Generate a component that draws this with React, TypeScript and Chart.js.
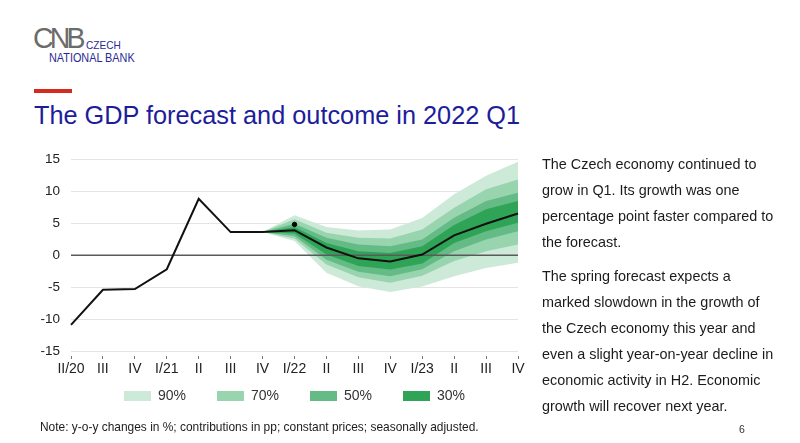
import React, { useEffect, useRef } from "react";
import { Chart, registerables } from "chart.js";

Chart.register(...registerables);

const categories = ["II/20", "III", "IV", "I/21", "II", "III", "IV", "I/22", "II", "III", "IV", "I/23", "II", "III", "IV"];
const gdpForecast = [-10.9, -5.4, -5.3, -2.2, 8.8, 3.6, 3.6, 3.9, 1.2, -0.5, -1.0, 0.1, 3.1, 4.9, 6.5];
const gdpOutcome = [null, null, null, null, null, null, null, 4.8, null, null, null, null, null, null, null];

const upper90 = [null, null, null, null, null, null, 3.6, 6.25, 4.4, 3.85, 4.0, 5.8, 9.5, 12.4, 14.6];
const upper70 = [null, null, null, null, null, null, 3.6, 5.6, 3.5, 2.7, 2.6, 4.0, 7.4, 10.3, 11.8];
const upper50 = [null, null, null, null, null, null, 3.6, 4.9, 2.7, 1.65, 1.4, 2.45, 5.85, 8.45, 9.75];
const upper30 = [null, null, null, null, null, null, 3.6, 4.4, 1.9, 0.6, 0.35, 1.4, 4.7, 7.15, 8.45];
const lower30 = [null, null, null, null, null, null, 3.6, 3.4, 0.1, -1.7, -2.25, -1.3, 1.9, 3.75, 5.05];
const lower50 = [null, null, null, null, null, null, 3.6, 3.0, -0.7, -2.6, -3.3, -2.2, 0.6, 2.45, 3.75];
const lower70 = [null, null, null, null, null, null, 3.6, 2.6, -1.45, -3.45, -4.3, -3.2, -0.9, 0.6, 1.65];
const lower90 = [null, null, null, null, null, null, 3.6, 2.2, -2.75, -4.85, -5.75, -4.9, -3.3, -2.0, -1.2];

const bandLabels = ["30%", "50%", "70%", "90%"];
const bandColors = ["#2fa457", "#64bb86", "#98d5ae", "#cde9d8"];

const yMin = -15;
const yMax = 15;
const yStep = 5;

const FONT = "'Liberation Sans', Arial, Helvetica, sans-serif";

// draws the zero line above the fan bands, below the GDP line
const zeroLinePlugin = {
  id: "zeroLine",
  beforeDatasetDraw(chart: any, args: any) {
    if (args.index !== 1) return;
    const y = chart.scales.y.getPixelForValue(0);
    const { left, right } = chart.chartArea;
    const ctx = chart.ctx;
    ctx.save();
    ctx.strokeStyle = "#5a5a5a";
    ctx.lineWidth = 1.5;
    ctx.beginPath();
    ctx.moveTo(left, y);
    ctx.lineTo(right, y);
    ctx.stroke();
    ctx.restore();
  },
};

// moves the legend row up closer to the axis labels and centres it under the plot
const legendShiftPlugin = {
  id: "legendShift",
  afterLayout(chart: any) {
    const lg = chart.legend;
    if (!lg) return;
    lg.top -= 21;
    lg.bottom -= 21;
    lg.left += 25.5;
    lg.right += 25.5;
  },
};

function FanChart() {
  const ref = useRef<HTMLCanvasElement | null>(null);
  useEffect(() => {
    if (!ref.current) return;
    const band = (label: string, data: (number | null)[], color: string, fill: any) => ({
      label,
      data,
      borderWidth: 0,
      borderColor: "rgba(0,0,0,0)",
      backgroundColor: color,
      pointRadius: 0,
      fill,
      tension: 0,
    });
    const chart = new Chart(ref.current, {
      type: "line",
      plugins: [zeroLinePlugin, legendShiftPlugin],
      data: {
        labels: categories,
        datasets: [
          {
            label: "Outcome",
            data: gdpOutcome,
            showLine: false,
            pointRadius: 2.2,
            pointBackgroundColor: "#000",
            pointBorderColor: "#000",
            borderColor: "#000",
            backgroundColor: "#000",
            fill: false,
          },
          {
            label: "GDP",
            data: gdpForecast,
            borderColor: "#111",
            borderWidth: 2,
            pointRadius: 0,
            fill: false,
            tension: 0,
          },
          band(bandLabels[0], upper30, bandColors[0], "+1"),
          band("l30", lower30, bandColors[0], false),
          band(bandLabels[1], upper50, bandColors[1], "+1"),
          band("l50", lower50, bandColors[1], false),
          band(bandLabels[2], upper70, bandColors[2], "+1"),
          band("l70", lower70, bandColors[2], false),
          band(bandLabels[3], upper90, bandColors[3], "+1"),
          band("l90", lower90, bandColors[3], false),
        ] as any,
      },
      options: {
        animation: false,
        responsive: false,
        devicePixelRatio: 1,
        layout: { padding: { top: 13, right: 50, left: 0, bottom: 0 } },
        plugins: {
          tooltip: { enabled: false },
          legend: {
            position: "bottom",
            align: "center",
            labels: {
              boxWidth: 27,
              boxHeight: 10,
              padding: 31,
              color: "#333",
              font: { size: 14, family: FONT },
              filter: (item: any) => bandLabels.includes(item.text),
              sort: (a: any, b: any) => b.datasetIndex - a.datasetIndex,
            },
          },
        },
        scales: {
          x: {
            grid: {
              display: true,
              drawOnChartArea: false,
              drawTicks: true,
              tickLength: 9,
              tickColor: "#777",
              tickWidth: 1,
              tickBorderDash: [0, 5, 3, 30],
            } as any,
            border: { display: false },
            ticks: {
              color: "#222",
              font: { size: 14, family: FONT },
              padding: 1,
              maxRotation: 0,
              autoSkip: false,
            },
          },
          y: {
            min: yMin,
            max: yMax,
            ticks: {
              stepSize: yStep,
              color: "#222",
              font: { size: 13.5, family: FONT },
              padding: 11,
            },
            grid: {
              drawTicks: false,
              color: "#e4e4e4",
              lineWidth: 1,
            },
            border: { display: false },
            afterFit: (s: any) => {
              s.width = 51;
            },
          },
        },
      } as any,
    });
    return () => chart.destroy();
  }, []);
  return (
    <canvas
      ref={ref}
      width={548}
      height={294}
      style={{ position: "absolute", left: 20, top: 140, width: 548, height: 294 }}
    />
  );
}

export default function App() {
  const text: React.CSSProperties = {
    position: "absolute",
    left: 542,
    fontSize: 14.4,
    lineHeight: "25.9px",
    color: "#1b1b1b",
    whiteSpace: "nowrap",
    fontFamily: FONT,
  };
  return (
    <div
      style={{
        position: "fixed",
        left: 0,
        top: 0,
        width: 800,
        height: 443,
        overflow: "hidden",
        background: "#fff",
        fontFamily: FONT,
      }}
    >
      {/* logo */}
      <div
        style={{
          position: "absolute",
          left: 33,
          top: 21,
          fontSize: 30,
          lineHeight: "34px",
          letterSpacing: -4,
          color: "#6b6b6b",
          transform: "scaleX(0.95)",
          transformOrigin: "left top",
        }}
      >
        CNB
      </div>
      <div
        style={{
          position: "absolute",
          left: 86,
          top: 38,
          fontSize: 11.6,
          lineHeight: "14px",
          color: "#2a2a96",
          transform: "scaleX(0.87)",
          transformOrigin: "left top",
        }}
      >
        CZECH
      </div>
      <div
        style={{
          position: "absolute",
          left: 49,
          top: 50,
          fontSize: 13,
          lineHeight: "15px",
          color: "#2a2a96",
          whiteSpace: "nowrap",
          transform: "scaleX(0.835)",
          transformOrigin: "left top",
        }}
      >
        NATIONAL BANK
      </div>
      {/* red bar */}
      <div style={{ position: "absolute", left: 34, top: 89, width: 38, height: 3.5, background: "#d52b1e" }} />
      {/* title */}
      <div
        style={{
          position: "absolute",
          left: 34,
          top: 100,
          fontSize: 25.3,
          lineHeight: "30px",
          color: "#1d1d9b",
          whiteSpace: "nowrap",
        }}
      >
        The GDP forecast and outcome in 2022 Q1
      </div>

      <FanChart />

      {/* right text */}
      <div style={{ ...text, top: 152 }}>
        The Czech economy continued to
        <br />
        grow in Q1. Its growth was one
        <br />
        percentage point faster compared to
        <br />
        the forecast.
      </div>
      <div style={{ ...text, top: 264.3 }}>
        The spring forecast expects a
        <br />
        marked slowdown in the growth of
        <br />
        the Czech economy this year and
        <br />
        even a slight year-on-year decline in
        <br />
        economic activity in H2. Economic
        <br />
        growth will recover next year.
      </div>

      {/* note */}
      <div
        style={{
          position: "absolute",
          left: 40,
          top: 418.5,
          fontSize: 11.95,
          lineHeight: "16px",
          color: "#1b1b1b",
          whiteSpace: "nowrap",
        }}
      >
        Note: y-o-y changes in %; contributions in pp; constant prices; seasonally adjusted.
      </div>
      <div style={{ position: "absolute", left: 739, top: 423, fontSize: 10.5, lineHeight: "12px", color: "#333" }}>
        6
      </div>
    </div>
  );
}
